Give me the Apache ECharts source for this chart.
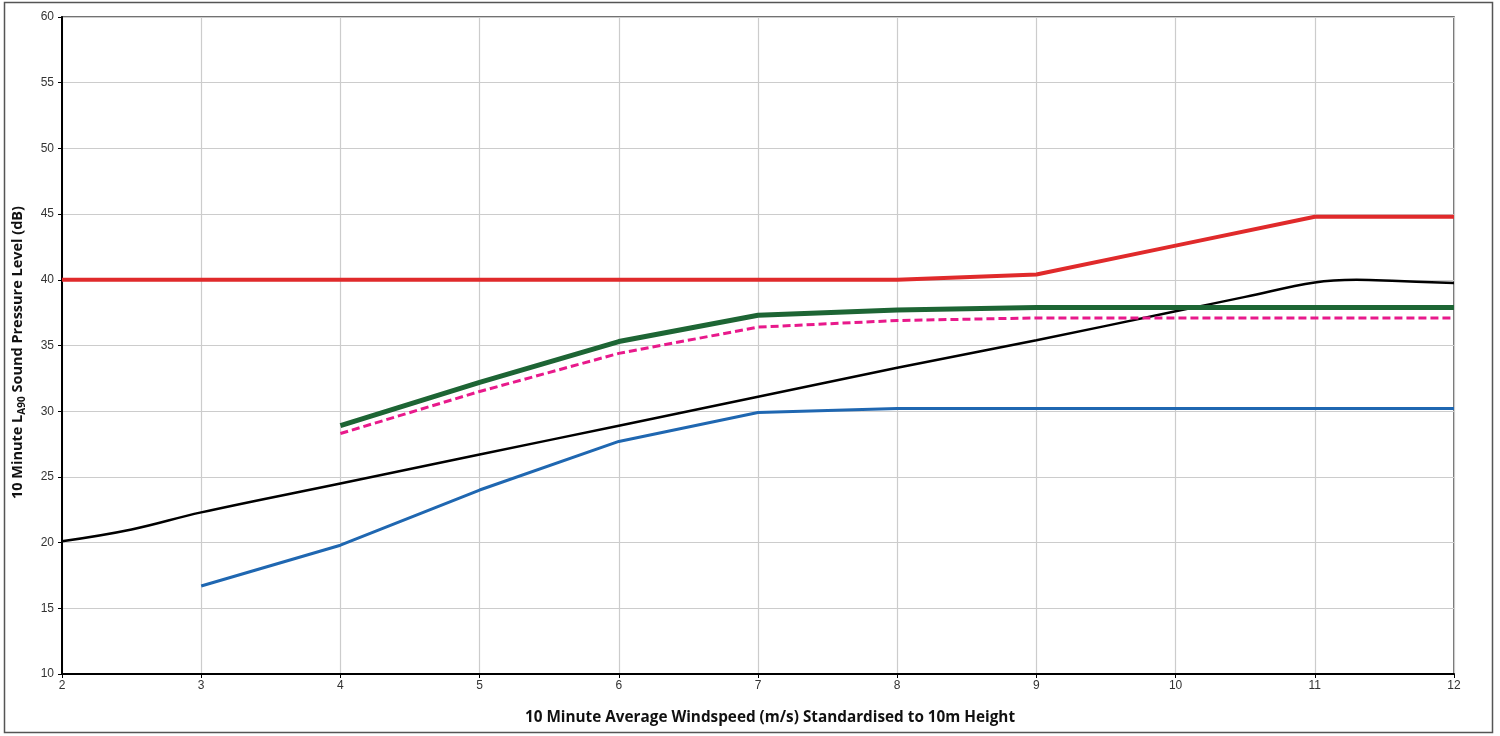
<!DOCTYPE html>
<html>
<head>
<meta charset="utf-8">
<script src="https://cdn.jsdelivr.net/npm/echarts@6/dist/echarts.min.js"></script>
<style>
html,body{margin:0;padding:0;background:#fff;}
#chart{width:1500px;height:736px;}
</style>
</head>
<body>
<div id="chart"></div>
<script>
// Data
var xTicks = [2, 3, 4, 5, 6, 7, 8, 9, 10, 11, 12];
var yTicks = [10, 15, 20, 25, 30, 35, 40, 45, 50, 55, 60];

var redX = [2, 3, 4, 5, 6, 7, 8, 9, 10, 11, 12];
var redY = [40, 40, 40, 40, 40, 40, 40, 40.4, 42.6, 44.8, 44.8];

var greenX = [4, 5, 6, 7, 8, 9, 10, 11, 12];
var greenY = [28.9, 32.2, 35.3, 37.3, 37.7, 37.9, 37.9, 37.9, 37.9];

var pinkX = [4, 5, 6, 7, 8, 9, 10, 11, 12];
var pinkY = [28.3, 31.5, 34.4, 36.4, 36.9, 37.1, 37.1, 37.1, 37.1];

var blueX = [3, 4, 5, 6, 7, 8, 9, 10, 11, 12];
var blueY = [16.7, 19.8, 24.0, 27.7, 29.9, 30.2, 30.2, 30.2, 30.2, 30.2];

var blackX = [2, 2.5, 3, 4, 5, 6, 7, 8, 9, 10, 10.5, 11, 11.3, 11.6, 12];
var blackY = [20.1, 21.0, 22.3, 24.5, 26.7, 28.9, 31.1, 33.3, 35.4, 37.6, 38.7, 39.8, 40.0, 39.9, 39.75];

function pairs(xs, ys) { return xs.map(function (x, i) { return [x, ys[i]]; }); }

var chart = echarts.init(document.getElementById('chart'), null, {renderer: 'canvas'});
var titleFont = '"Open Sans", "DejaVu Sans", sans-serif';
var option = {
  animation: false,
  backgroundColor: '#ffffff',
  graphic: [{
    type: 'rect',
    shape: {x: 4.5, y: 2.5, width: 1488, height: 730},
    style: {fill: 'none', stroke: '#555', lineWidth: 1.5},
    silent: true
  }],
  grid: {left: 62, right: 46, top: 17, bottom: 62, show: true, borderColor: '#444', borderWidth: 1.5, backgroundColor: 'transparent'},
  xAxis: {
    type: 'value', min: 2, max: 12, interval: 1,
    name: '10 Minute Average Windspeed (m/s) Standardised to 10m Height',
    nameLocation: 'middle', nameGap: 36,
    nameTextStyle: {fontFamily: titleFont, fontWeight: 'bold', fontSize: 15.3, color: '#111', padding: [0, 0, 0, 24]},
    axisLine: {show: true, onZero: false, lineStyle: {color: '#000', width: 2}},
    axisTick: {show: true, length: 4, lineStyle: {color: '#000'}},
    axisLabel: {fontFamily: '"Liberation Sans", Arial, sans-serif', fontSize: 12, color: '#333', margin: 6,
      formatter: function (v) { return xTicks.indexOf(v) >= 0 ? String(v) : ''; }},
    splitLine: {show: true, lineStyle: {color: '#cccccc', width: 1.2}}
  },
  yAxis: {
    type: 'value', min: 10, max: 60, interval: 5,
    name: '{n|10 Minute L}{s|A90}{n| Sound Pressure Level (dB)}',
    nameLocation: 'middle', nameGap: 35, nameRotate: 90,
    nameTextStyle: {
      padding: [0, 14, 0, 0],
      rich: {
        n: {fontFamily: titleFont, fontWeight: 'bold', fontSize: 14.5, color: '#111'},
        s: {fontFamily: titleFont, fontWeight: 'bold', fontSize: 10, color: '#111', padding: [9, 0, 0, 0]}
      }
    },
    axisLine: {show: true, onZero: false, lineStyle: {color: '#000', width: 2}},
    axisTick: {show: true, length: 4, lineStyle: {color: '#000'}},
    axisLabel: {fontFamily: '"Liberation Sans", Arial, sans-serif', fontSize: 12, color: '#333', margin: 8,
      formatter: function (v) { return yTicks.indexOf(v) >= 0 ? String(v) : ''; }},
    splitLine: {show: true, lineStyle: {color: '#cccccc', width: 1.2}}
  },
  series: [
    {type: 'line', name: 'black', data: pairs(blackX, blackY), smooth: 0.4, showSymbol: false, symbol: 'none',
      lineStyle: {color: '#000000', width: 2.5}, z: 3},
    {type: 'line', name: 'blue', data: pairs(blueX, blueY), showSymbol: false, symbol: 'none',
      lineStyle: {color: '#1f67b1', width: 3}, z: 4},
    {type: 'line', name: 'pink', data: pairs(pinkX, pinkY), showSymbol: false, symbol: 'none',
      lineStyle: {color: '#e8198b', width: 3, type: [8, 4]}, z: 5},
    {type: 'line', name: 'green', data: pairs(greenX, greenY), showSymbol: false, symbol: 'none',
      lineStyle: {color: '#1d6534', width: 5}, z: 6},
    {type: 'line', name: 'red', data: pairs(redX, redY), showSymbol: false, symbol: 'none',
      lineStyle: {color: '#e02a2b', width: 4}, z: 7}
  ]
};
chart.setOption(option);
</script>
</body>
</html>
